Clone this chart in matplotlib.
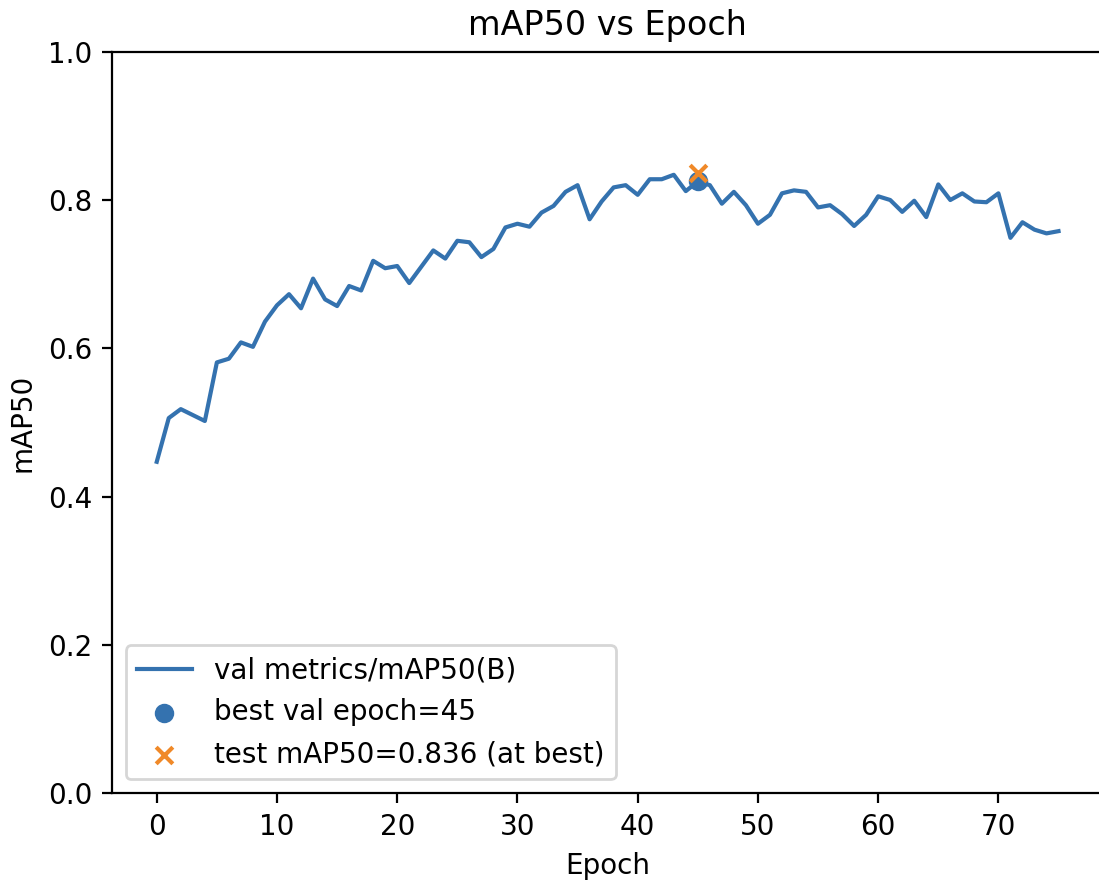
import matplotlib
matplotlib.use("Agg")
import matplotlib.pyplot as plt
import numpy as np

epochs = list(range(76))
map50 = [0.447, 0.506, 0.518, 0.510, 0.502, 0.581, 0.586, 0.608, 0.602, 0.636,
         0.658, 0.673, 0.654, 0.694, 0.666, 0.657, 0.684, 0.678, 0.718, 0.708,
         0.711, 0.688, 0.710, 0.732, 0.721, 0.745, 0.743, 0.723, 0.734, 0.763,
         0.768, 0.764, 0.783, 0.792, 0.811, 0.820, 0.774, 0.798, 0.817, 0.820,
         0.807, 0.828, 0.828, 0.834, 0.812, 0.825, 0.820, 0.795, 0.811, 0.793,
         0.768, 0.780, 0.809, 0.813, 0.811, 0.790, 0.793, 0.781, 0.765, 0.780,
         0.805, 0.800, 0.784, 0.799, 0.777, 0.821, 0.800, 0.809, 0.798, 0.797,
         0.809, 0.749, 0.770, 0.760, 0.755, 0.758]
best_epoch = 45
test_map50 = 0.836

blue = '#3472af'
orange = '#f08928'

fig = plt.figure(figsize=(10.99 / 2, 8.82 / 2), dpi=200)
ax = fig.add_axes([0.1016, 0.1006, 0.9026, 0.8408])
ax.plot(epochs, map50, color=blue, label='val metrics/mAP50(B)')
ax.scatter([best_epoch], [map50[best_epoch]], color=blue, zorder=3,
           label=f'best val epoch={best_epoch}')
ax.scatter([best_epoch], [test_map50], color=orange, marker='x', zorder=4,
           label=f'test mAP50={test_map50:.3f} (at best)')
ax.set_ylim(0, 1.0)
ax.set_title('mAP50 vs Epoch')
ax.set_xlabel('Epoch')
ax.set_ylabel('mAP50')
ax.legend(loc='lower left')
fig.savefig('out.png', dpi=200)
